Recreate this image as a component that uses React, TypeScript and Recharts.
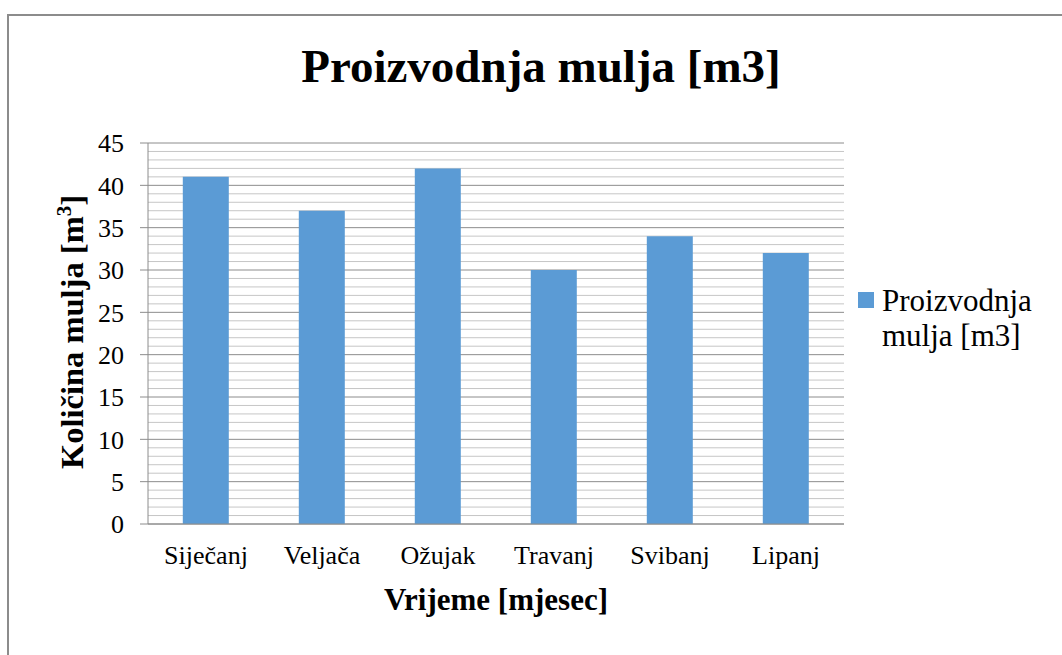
import { BarChart, Bar, XAxis, YAxis, CartesianGrid, Legend } from 'recharts'

const months = ['Siječanj', 'Veljača', 'Ožujak', 'Travanj', 'Svibanj', 'Lipanj']
const production = [41, 37, 42, 30, 34, 32]
const majorTicks = [0, 5, 10, 15, 20, 25, 30, 35, 40, 45]
const minorTicks = [
  1, 2, 3, 4, 6, 7, 8, 9, 11, 12, 13, 14, 16, 17, 18, 19, 21, 22, 23, 24,
  26, 27, 28, 29, 31, 32, 33, 34, 36, 37, 38, 39, 41, 42, 43, 44,
]
const seriesName = 'Proizvodnja mulja [m3]'

const data = months.map((m, i) => ({ month: m, value: production[i] }))

const FONT = '"Liberation Serif", "Times New Roman", serif'
const BLUE = '#5b9bd5'

const renderLegend = () => (
  <div style={{ display: 'flex', alignItems: 'flex-start' }}>
    <span style={{ width: 16, height: 16, background: BLUE, marginTop: 9, marginRight: 8, flexShrink: 0 }} />
    <span style={{ fontFamily: FONT, fontSize: 31, lineHeight: '35px', color: '#000', width: 165 }}>{seriesName}</span>
  </div>
)

export default function App() {
  return (
    <div style={{ position: 'absolute', left: 0, top: 0, width: 1062, height: 655, background: '#fff', overflow: 'hidden' }}>
      <div
        style={{
          position: 'absolute', left: 7, top: 14, width: 1100, height: 700,
          borderLeft: '2px solid #8c8c8c', borderTop: '2px solid #8c8c8c',
        }}
      />
      <div
        style={{
          position: 'absolute', left: 0, width: 1082, top: 38, textAlign: 'center',
          fontFamily: FONT, fontWeight: 'bold', fontSize: 47, lineHeight: '56px',
        }}
      >
        {seriesName}
      </div>
      <BarChart
        width={1062}
        height={655}
        data={data}
        margin={{ top: 143, right: 218, bottom: 71, left: 0 }}
        barCategoryGap="30%"
        style={{ position: 'absolute', left: 0, top: 0 }}
      >
        <CartesianGrid horizontalValues={minorTicks} vertical={false} stroke="#c6c6c6" strokeWidth={1} />
        <CartesianGrid horizontalValues={majorTicks} vertical={false} stroke="#8c8c8c" strokeWidth={1} />
        <XAxis
          dataKey="month"
          height={60}
          tickLine={false}
          axisLine={{ stroke: '#8c8c8c' }}
          tickSize={0}
          tickMargin={22}
          tick={{ fontSize: 26, fill: '#000', fontFamily: FONT }}
          interval={0}
        />
        <YAxis
          width={148}
          domain={[0, 45]}
          ticks={majorTicks}
          interval={0}
          tickSize={8}
          tickMargin={16}
          tickLine={{ stroke: '#8c8c8c' }}
          axisLine={{ stroke: '#8c8c8c' }}
          tick={{ fontSize: 26, fill: '#000', fontFamily: FONT }}
        />
        <Legend
          layout="horizontal"
          align="center"
          verticalAlign="middle"
          content={renderLegend}
          wrapperStyle={{ position: 'absolute', left: 858, top: 283, width: 200 }}
        />
        <Bar dataKey="value" name={seriesName} fill={BLUE} isAnimationActive={false} />
      </BarChart>
      <div
        style={{
          position: 'absolute', left: 296, width: 400, top: 582, textAlign: 'center',
          fontFamily: FONT, fontWeight: 'bold', fontSize: 31, lineHeight: '36px', whiteSpace: 'nowrap',
        }}
      >
        Vrijeme [mjesec]
      </div>
      <div style={{ position: 'absolute', left: 72, top: 332, width: 0, height: 0 }}>
        <div
          style={{
            position: 'absolute', left: 0, top: 0, transform: 'translate(-50%, -50%) rotate(-90deg)',
            fontFamily: FONT, fontWeight: 'bold', fontSize: 32.5, lineHeight: '36px', whiteSpace: 'nowrap',
          }}
        >
          Količina mulja [m<sup style={{ fontSize: 21, verticalAlign: 'super', lineHeight: 0 }}>3</sup>]
        </div>
      </div>
    </div>
  )
}
